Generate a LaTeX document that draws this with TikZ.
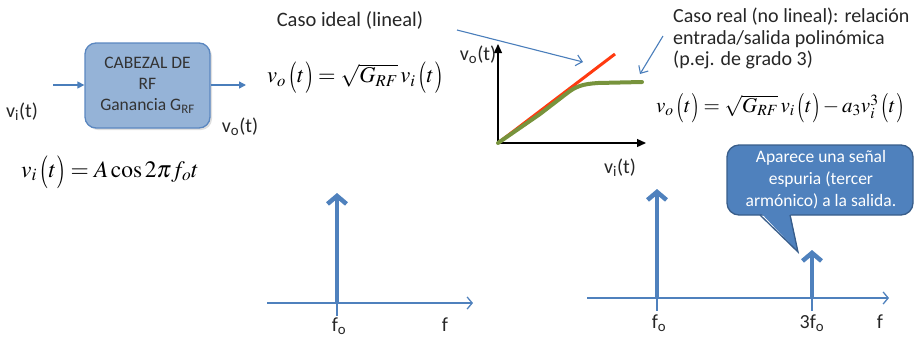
\documentclass[tikz,border=0pt]{standalone}
\usepackage{mathptmx}
\usepackage[no-math]{fontspec}
\setmainfont{Carlito}
\usetikzlibrary{arrows.meta,shadows}
\definecolor{ablue}{HTML}{4A7EBB}
\definecolor{boxfill}{HTML}{95B3D7}
\definecolor{boxline}{HTML}{5B87C0}
\definecolor{callfill}{HTML}{4F81BD}
\definecolor{callline}{HTML}{385D8A}
\definecolor{redl}{HTML}{FF3A10}
\definecolor{greenl}{HTML}{77933C}
\newcommand{\lpar}{\mathopen{\raisebox{-0.13em}{\scalebox{1}[1.4]{$($}}}}
\newcommand{\rpar}{\mathclose{\raisebox{-0.13em}{\scalebox{1}[1.4]{$)$}}}}
\newcommand{\pt}{\lpar t\rpar}
\begin{document}
\begin{tikzpicture}[x=1pt,y=-1pt,
  txt/.style={font=\fontsize{20}{24}\selectfont, inner sep=0pt, text=black!85},
  mth/.style={font=\fontsize{22.5}{26}\selectfont, inner sep=0pt},
  thinarr/.style={draw=ablue, line width=1.1pt, -{Straight Barb[length=6pt,width=11pt]}},
  inarr/.style={draw=ablue, line width=1.4pt, -{Triangle[length=7pt,width=7pt]}},
  axarr/.style={draw=black, line width=1.3pt, -{Triangle[length=9pt,width=8pt]}},
  faxis/.style={draw=callfill, line width=1.3pt, -{Straight Barb[length=5pt,width=12pt]}},
  ftick/.style={draw=callfill, line width=1.3pt},
  spike/.style={draw=callfill, line width=4.5pt, -{Straight Barb[length=8pt,width=19pt]}},
]
\useasboundingbox (0,0) rectangle (916,341);

% RF block
\node[draw=boxline, fill=boxfill, rounded corners=11pt, line width=1.3pt,
      minimum width=125pt, minimum height=85pt, align=center,
      font=\fontsize{17.5}{21}\selectfont, text=black!80,
      drop shadow={opacity=0.25, shadow xshift=2pt, shadow yshift=-2pt}] (rf) at (147.5,85.5)
      {CABEZAL DE\\RF\\Ganancia G\textsubscript{RF}};
\coordinate (inA) at (53,85);
\coordinate (outB) at (246,85);
\draw[inarr] (inA) -- (rf.west |- inA);
\draw[inarr] (rf.east |- outB) -- (outB);
\node[txt] (vi) at (22,112) {v\textsubscript{i}(t)};
\node[txt] (vo) at (240,127) {v\textsubscript{o}(t)};

% equations
\node[mth, font=\fontsize{23.5}{27}\selectfont] (eqi) at (110,172) {$v_i\,\pt = A\cos 2\pi f_o t$};
\node[txt, font=\fontsize{20.5}{24}\selectfont] (ideal) at (350,20) {Caso ideal (lineal)};
\node[mth] (eqid) at (355,78) {$v_o\,\pt=\sqrt{G_{RF}}\,v_i\,\pt$};
\node[txt, anchor=west, align=left, font=\fontsize{20}{21.5}\selectfont] (real) at (673,38.5)
  {Caso real (no lineal): relación\\entrada/salida polinómica\\(p.ej. de grado 3)};
\node[mth, font=\fontsize{21}{25}\selectfont] (eqre) at (780,108) {$v_o\,\pt=\sqrt{G_{RF}}\,v_i\,\pt-a_3v_i^3\,\pt$};

% graph
\coordinate (O) at (498,143);
\coordinate (Y) at (498,44);
\coordinate (X) at (646,143);
\coordinate (R) at (615,54);
\draw[axarr] (O) -- (Y);
\draw[axarr] (O) -- (X);
\draw[redl, line width=3pt] (O) -- (R);
\draw[greenl, line width=4pt, line cap=round, line join=round]
  (O) -- (540,114) -- (566,94) .. controls (576,86) and (583,84) .. (598,83) -- (642,82);
\node[txt] (voax) at (478,55) {v\textsubscript{o}(t)};
\node[txt] (viax) at (620,168) {v\textsubscript{i}(t)};

% pointer arrows
\coordinate (a1s) at (457,30);
\coordinate (a1e) at (583,62);
\draw[thinarr] (a1s) -- (a1e);
\coordinate (a2s) at (663,36);
\coordinate (a2e) at (640,74);
\draw[thinarr] (a2s) -- (a2e);

% callout
\draw[fill=callfill, draw=callline, line width=1.3pt, rounded corners=12pt] (727,145) rectangle (913,215);
\coordinate (cl) at (760,215);
\coordinate (cr) at (790,215);
\coordinate (ct) at (798,252);
\fill[callfill] (760,212) -- (790,212) -- (ct) -- cycle;
\draw[callline, line width=1.3pt, line join=miter] (cl) -- (ct) -- (cr);
\node[align=center, text=white, font=\fontsize{17.5}{22}\selectfont, inner sep=0pt] (calltxt) at (821,180)
  {Aparece una señal\\espuria (tercer\\armónico) a la salida.};

% left spectrum
\coordinate (L0) at (267,303);
\coordinate (L1) at (473,303);
\coordinate (Lb) at (337,303);
\coordinate (Lt) at (337,193);
\coordinate (Ld) at (337,316);
\draw[faxis] (L0) -- (L1);
\draw[ftick] (Lb) -- (Ld);
\draw[spike] (Lb) -- (Lt);
\node[txt, anchor=base] (lfo) at (339,331) {f\textsubscript{o}};
\node[txt, anchor=base] (lf) at (445,331) {f};

% right spectrum
\coordinate (R0) at (587,298);
\coordinate (R1) at (889,298);
\coordinate (Rb) at (657,298);
\coordinate (Rt) at (657,189);
\coordinate (Rd) at (657,311);
\coordinate (Sb) at (812,298);
\coordinate (St) at (812,250);
\coordinate (Sd) at (812,311);
\draw[faxis] (R0) -- (R1);
\draw[ftick] (Rb) -- (Rd);
\draw[ftick] (Sb) -- (Sd);
\draw[spike] (Rb) -- (Rt);
\draw[spike] (Sb) -- (St);
\node[txt, anchor=base] (rfo) at (659,328) {f\textsubscript{o}};
\node[txt, anchor=base] (r3fo) at (812,328) {3f\textsubscript{o}};
\node[txt, anchor=base] (rf2) at (880,328) {f};
\end{tikzpicture}
\end{document}
